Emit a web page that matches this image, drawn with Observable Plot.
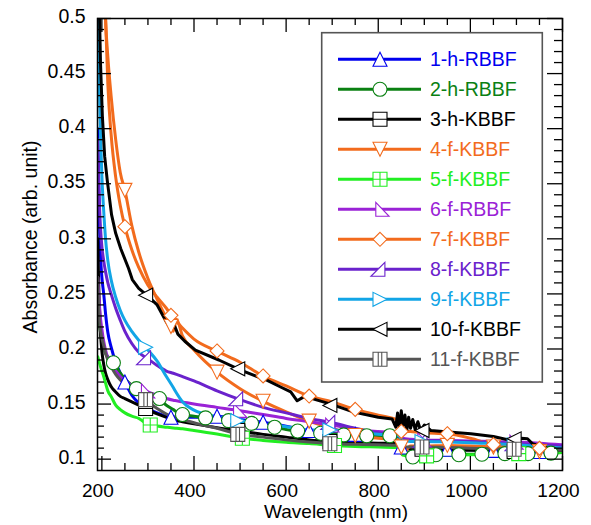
<!DOCTYPE html>
<html><head><meta charset="utf-8">
<script src="https://cdn.jsdelivr.net/npm/d3@7"></script>
<script src="https://cdn.jsdelivr.net/npm/@observablehq/plot@0.6"></script>
<style>html,body{margin:0;padding:0;background:#fff}#chart{width:591px;height:525px}</style>
</head><body><div id="chart"></div>
<script>
// ---------- data ----------
const wavelengths = [191,193,195,197,200,204,208,213,220,230,240,250,265,280,300,320,340,355,362,375,400,450,500,550,600,650,700,750,800,845,852,870,900,950,1000,1050,1100,1150,1200];
const s1 = [0.40,0.35,0.31,0.285,0.265,0.25,0.232,0.215,0.202,0.188,0.178,0.170,0.158,0.151,0.146,0.142,0.139,0.138,0.138,0.138,0.138,0.139,0.136,0.1335,0.130,0.126,0.124,0.1225,0.121,0.120,0.111,0.110,0.1095,0.109,0.1085,0.108,0.1075,0.107,0.1065];
const s2 = [0.245,0.232,0.222,0.215,0.208,0.201,0.196,0.193,0.190,0.185,0.178,0.173,0.167,0.162,0.158,0.155,0.149,0.145,0.143,0.1405,0.139,0.136,0.134,0.131,0.127,0.124,0.123,0.121,0.1215,0.121,0.105,0.1025,0.104,0.1045,0.1045,0.105,0.105,0.105,0.106];
const s3 = [0.30,0.26,0.235,0.215,0.198,0.186,0.178,0.172,0.166,0.161,0.157,0.155,0.152,0.149,0.145,0.141,0.138,0.136,0.135,0.134,0.132,0.1285,0.1255,0.1225,0.120,0.1175,0.116,0.115,0.1145,0.114,0.110,0.109,0.109,0.108,0.108,0.1075,0.107,0.1065,0.106];
const s4 = [1.0,0.9,0.8,0.72,0.64,0.56,0.5,0.465,0.43,0.39,0.36,0.344,0.312,0.288,0.264,0.245,0.228,0.216,0.227,0.212,0.199,0.179,0.164,0.1525,0.143,0.1345,0.128,0.1215,0.119,0.1175,0.104,0.112,0.112,0.1125,0.112,0.111,0.109,0.107,0.106];
const s5 = [0.193,0.19,0.187,0.184,0.18,0.175,0.169,0.162,0.157,0.149,0.145,0.142,0.139,0.137,0.1315,0.13,0.129,0.1283,0.128,0.1275,0.126,0.1228,0.1192,0.117,0.1153,0.1142,0.1125,0.1115,0.111,0.1105,0.104,0.1025,0.103,0.1035,0.104,0.1045,0.105,0.1055,0.106];
const s6 = [0.265,0.25,0.238,0.228,0.218,0.207,0.199,0.192,0.186,0.18,0.175,0.171,0.167,0.164,0.161,0.158,0.155,0.1535,0.153,0.152,0.15,0.147,0.144,0.1405,0.137,0.134,0.131,0.127,0.125,0.124,0.119,0.118,0.1175,0.117,0.1165,0.116,0.1155,0.1145,0.113];
const s7 = [1.0,0.9,0.8,0.72,0.64,0.56,0.5,0.44,0.395,0.356,0.33,0.311,0.29,0.274,0.258,0.247,0.237,0.228,0.225,0.219,0.209,0.198,0.188,0.1755,0.1665,0.1573,0.152,0.1452,0.14,0.135,0.126,0.125,0.124,0.123,0.119,0.1132,0.1115,0.1099,0.1085];
const s8 = [0.39,0.355,0.328,0.31,0.293,0.28,0.27,0.26,0.25,0.237,0.226,0.216,0.205,0.197,0.191,0.185,0.18,0.178,0.177,0.175,0.171,0.162,0.154,0.147,0.142,0.137,0.133,0.128,0.124,0.122,0.118,0.117,0.117,0.1165,0.116,0.115,0.114,0.113,0.112];
const s9 = [0.52,0.47,0.43,0.395,0.357,0.325,0.3,0.28,0.263,0.247,0.235,0.226,0.216,0.208,0.199,0.189,0.175,0.165,0.16,0.152,0.1445,0.1385,0.1345,0.132,0.1295,0.1265,0.1265,0.1245,0.1225,0.121,0.117,0.116,0.116,0.1155,0.115,0.114,0.113,0.1115,0.11];
const s11 = [0.265,0.238,0.225,0.217,0.21,0.203,0.196,0.19,0.184,0.177,0.172,0.1685,0.164,0.16,0.152,0.146,0.141,0.1385,0.1375,0.136,0.133,0.128,0.1225,0.12,0.1175,0.1155,0.114,0.1135,0.113,0.1125,0.1115,0.111,0.111,0.1105,0.11,0.1095,0.109,0.1085,0.108];
// series 10 has its own (noisier) sampling
const wavelengths10 = [192,195,197,201,206,212,221,230,241,258,266,280,300,320,338,350,356,365,380,403,454,500,559,588,610,624,640,697,747,800,830,838,842,846,850,854,858,862,866,870,875,880,886,892,900,914,960,1001,1050,1081,1100,1110,1124,1135,1146,1182,1200];
const s10 = [0.56,0.5,0.46,0.412,0.375,0.352,0.322,0.305,0.291,0.273,0.263,0.255,0.248,0.240,0.226,0.218,0.223,0.2135,0.207,0.199,0.19,0.181,0.1715,0.1655,0.161,0.153,0.157,0.15,0.1427,0.138,0.1365,0.129,0.142,0.127,0.144,0.13,0.14,0.126,0.138,0.128,0.136,0.127,0.134,0.126,0.131,0.126,0.1245,0.123,0.1205,0.1176,0.1185,0.119,0.1185,0.114,0.1125,0.1085,0.108];

// marker positions
const markW50 = [225,275,325,375,425,475,525,575,625,675,725,775,825,875,925,975,1025,1075,1125,1175];
const markW100 = [250,350,450,550,650,750,850,950,1050,1150];
const markW200 = [295,495,695,895,1095];
const markW200b = [305,505,705,905,1105];
const m1 = [0.170,0.138,0.139,0.1335,0.126,0.1225,0.111,0.109,0.108,0.107];
const m2 = [0.1875,0.164,0.155,0.1405,0.1375,0.135,0.1325,0.129,0.1255,0.1235,0.122,0.1212,0.1213,0.102,0.104,0.104,0.1045,0.105,0.105,0.1055];
const m3 = [0.146,0.126,0.116,0.109,0.107];
const m4 = [0.344,0.2205,0.179,0.1525,0.1345,0.1215,0.111,0.1125,0.111,0.107];
const m5 = [0.131,0.119,0.1124,0.103,0.105];
const m6 = [0.162,0.1443,0.131,0.1175,0.1155];
const m7 = [0.311,0.2306,0.1982,0.1755,0.1573,0.1452,0.1252,0.1231,0.1132,0.1099];
const m8 = [0.192,0.1548,0.1334,0.117,0.114];
const m9 = [0.2015,0.1349,0.1265,0.116,0.113];
const m10 = [0.2488,0.182,0.1488,0.126,0.1185];
const m11 = [0.154,0.1225,0.114,0.111,0.109];

const names = ["1-h-RBBF","2-h-RBBF","3-h-KBBF","4-f-KBBF","5-f-KBBF","6-f-RBBF","7-f-KBBF","8-f-KBBF","9-f-KBBF","10-f-KBBF","11-f-KBBF"];
const colors = ["#0000ee","#0a8012","#000000","#f26b1d","#22ee22","#9a22d6","#f26b1d","#6a22cc","#12a5e6","#000000","#555555"];

const xTicks = [200,400,600,800,1000,1200];
const yTicks = [0.1,0.15,0.2,0.25,0.3,0.35,0.4,0.45,0.5];
const xMinor = [250,300,350,450,500,550,650,700,750,850,900,950,1050,1100,1150];
const yMinor = [0.11,0.12,0.13,0.14,0.16,0.17,0.18,0.19,0.21,0.22,0.23,0.24,0.26,0.27,0.28,0.29,0.31,0.32,0.33,0.34,0.36,0.37,0.38,0.39,0.41,0.42,0.43,0.44,0.46,0.47,0.48,0.49];

// ---------- symbols ----------
function sym(fn){ return {draw(c, size){ const r = Math.sqrt(size/Math.PI); fn(c, r); }}; }
const poly = (c, pts) => { c.moveTo(pts[0][0], pts[0][1]); for (let i=1;i<pts.length;i++) c.lineTo(pts[i][0], pts[i][1]); c.closePath(); };
const sqr = (c, r) => poly(c, [[-r,-r],[r,-r],[r,r],[-r,r]]);
const symbols = [
  sym((c,r)=>poly(c,[[0,-r],[r,r],[-r,r]])),                 // triangle up
  sym((c,r)=>{c.moveTo(r,0); c.arc(0,0,r,0,2*Math.PI); c.closePath();}), // circle
  sym((c,r)=>{sqr(c,r); c.moveTo(-r,0); c.lineTo(r,0);}),      // square with bar
  sym((c,r)=>poly(c,[[-r,-r],[r,-r],[0,r]])),                 // triangle down
  sym((c,r)=>{sqr(c,r); c.moveTo(-r,0); c.lineTo(r,0); c.moveTo(0,-r); c.lineTo(0,r);}), // grid square
  sym((c,r)=>poly(c,[[-0.6*r,-r],[-0.6*r,r],[1.3*r,r]])),     // half triangle
  sym((c,r)=>poly(c,[[0,-r],[r,0],[0,r],[-r,0]])),            // diamond
  sym((c,r)=>poly(c,[[0.7*r,-r],[0.7*r,r],[-1.3*r,r]])),      // half triangle
  sym((c,r)=>poly(c,[[r,0],[-r,-r],[-r,r]])),                 // triangle right
  sym((c,r)=>poly(c,[[-r,0],[r,-r],[r,r]])),                  // triangle left
  sym((c,r)=>{sqr(c,r); c.moveTo(-0.25*r,-r); c.lineTo(-0.25*r,r); c.moveTo(0.25*r,-r); c.lineTo(0.25*r,r);}) // split square
];

const lineW = [wavelengths,wavelengths,wavelengths,wavelengths,wavelengths,wavelengths,wavelengths,wavelengths,wavelengths,wavelengths10,wavelengths];
const lineV = [s1,s2,s3,s4,s5,s6,s7,s8,s9,s10,s11];
const markW = [markW100,markW50,markW200,markW100,markW200b,markW200,markW100,markW200,markW200,markW200,markW200];
const markV = [m1,m2,m3,m4,m5,m6,m7,m8,m9,m10,m11];
const rows = (w, v) => w.map((x, i) => ({w: x, v: v[i]}));

// ---------- layout ----------
const W = 591, H = 525, mL = 97, mR = 29, mT = 18, mB = 55;
const innerW = W - mL - mR, innerH = H - mT - mB;
const FONT = "'Liberation Sans', Arial, Helvetica, sans-serif";
const FS = 19.5;

const marks = [];
names.forEach((n, i) => marks.push(Plot.line(rows(lineW[i], lineV[i]), {x:"w", y:"v", stroke:colors[i], strokeWidth:3, strokeLinejoin:"round", curve: i === 9 ? "linear" : "monotone-x", clip:true})));
names.forEach((n, i) => marks.push(Plot.dot(rows(markW[i], markV[i]), {x:"w", y:"v", symbol:symbols[i], r:7, stroke:colors[i], fill:"white", strokeWidth:1.1, clip:true})));
// inward ticks on all four sides
marks.push(Plot.ruleX(xTicks, {stroke:"black", strokeWidth:1.3, insetTop: innerH - 14}));
marks.push(Plot.ruleX(xMinor, {stroke:"black", strokeWidth:1.3, insetTop: innerH - 7}));
marks.push(Plot.ruleX(xTicks, {stroke:"black", strokeWidth:1.3, insetBottom: innerH - 14}));
marks.push(Plot.ruleX(xMinor, {stroke:"black", strokeWidth:1.3, insetBottom: innerH - 7}));
marks.push(Plot.ruleY(yTicks, {stroke:"black", strokeWidth:1.3, insetRight: innerW - 14}));
marks.push(Plot.ruleY(yMinor, {stroke:"black", strokeWidth:1.3, insetRight: innerW - 7}));
marks.push(Plot.ruleY(yTicks, {stroke:"black", strokeWidth:1.3, insetLeft: innerW - 15}));
marks.push(Plot.ruleY(yMinor, {stroke:"black", strokeWidth:1.3, insetLeft: innerW - 8}));
marks.push(Plot.frame({stroke:"black", strokeWidth:1.5}));
marks.push(Plot.axisX(xTicks, {tickSize:0, tickPadding:13, dx:-4, tickFormat:d=>String(d), fontSize:19, label:null}));
marks.push(Plot.axisY(yTicks, {tickSize:0, tickPadding:12, dy:-1.5, tickFormat:d=>String(+d.toFixed(2)), fontSize:FS, label:null}));
marks.push(Plot.text(["Wavelength (nm)"], {text:d=>d, frameAnchor:"bottom", dx:6, dy:41.5, lineAnchor:"middle", textAnchor:"middle", fontSize:19}));
marks.push(Plot.text(["Absorbance (arb. unit)"], {text:d=>d, frameAnchor:"left", dx:-67, dy:-7.5, rotate:-90, lineAnchor:"middle", textAnchor:"middle", fontSize:FS}));

const chart = Plot.plot({
  width: W, height: H, marginLeft: mL, marginRight: mR, marginTop: mT, marginBottom: mB,
  x: {domain: [190.5, 1200], label: null},
  y: {domain: [0.0897, 0.5], label: null},
  style: {fontFamily: FONT, fontSize: FS + "px", color: "black", background: "white"},
  marks
});

// ---------- legend ----------
const g = d3.select(chart).append("g").attr("font-family", FONT).attr("font-size", FS).attr("text-anchor", "start");
g.append("rect").attr("x", 321.7).attr("y", 32.7).attr("width", 220.6).attr("height", 349.3)
  .attr("fill", "white").attr("stroke", "#555").attr("stroke-width", 1.6);
names.forEach((n, i) => {
  const y = 59.3 + 30 * i;
  g.append("line").attr("x1", 338).attr("x2", 421).attr("y1", y).attr("y2", y)
    .attr("stroke", colors[i]).attr("stroke-width", 3);
  g.append("path").attr("transform", `translate(380,${y})`)
    .attr("d", d3.symbol(symbols[i], Math.PI * 49)())
    .attr("fill", "white").attr("stroke", colors[i]).attr("stroke-width", 1.1);
  g.append("text").attr("x", 430).attr("y", y).attr("dy", "0.35em").attr("text-anchor", "start")
    .attr("fill", colors[i]).text(n);
});

document.getElementById("chart").appendChild(chart);
</script>
</body></html>
